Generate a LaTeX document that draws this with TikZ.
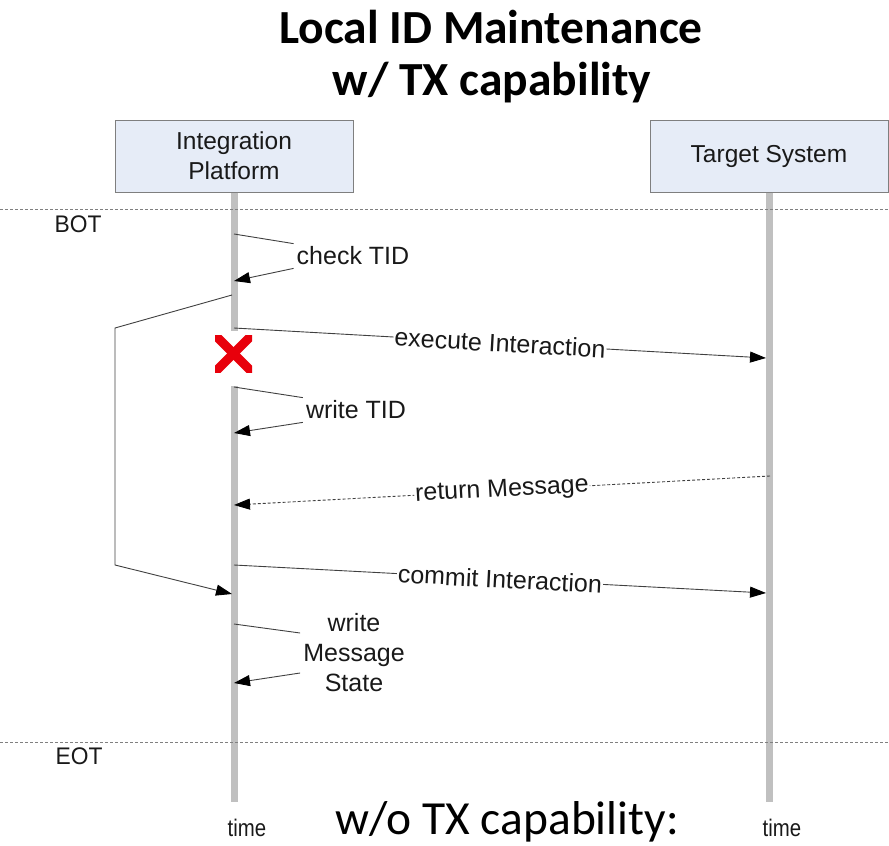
\documentclass[tikz,border=0pt]{standalone}
\usepackage{fontspec}
\setmainfont{Liberation Sans}
\newfontfamily\calib{Carlito}
\usetikzlibrary{arrows.meta}
\definecolor{boxfill}{HTML}{E6ECF7}
\definecolor{boxline}{HTML}{7F7F7F}
\definecolor{lifegray}{HTML}{C0C0C0}
\definecolor{msgline}{HTML}{404040}
\definecolor{xred}{HTML}{E8000B}
\tikzset{
  actor/.style={draw=boxline, fill=boxfill, line width=1pt, minimum width=238pt, minimum height=72pt, align=center, font=\fontsize{24.5}{30}\selectfont, text=black!90},
  lifeline/.style={draw=lifegray, line width=7pt},
  phase/.style={draw=gray, dashed, dash pattern=on 3pt off 2pt, line width=0.8pt},
  msg/.style={draw=msgline, line width=0.9pt, -{Triangle[length=16pt,width=11pt,color=black]}},
  msgplain/.style={draw=msgline, line width=0.9pt},
  lbl/.style={font=\fontsize{25}{30}\selectfont, text=black!90, align=center, inner sep=3pt},
  mlbl/.style={lbl, fill=white, inner sep=1pt, sloped},
  small/.style={font=\fontsize{24}{28}\selectfont, text=black!90},
}
\begin{document}
\begin{tikzpicture}[x=1pt,y=-1pt]
\useasboundingbox (0,0) rectangle (889,846);
% title
\node[anchor=base, font=\calib\bfseries\fontsize{47.5}{52}\selectfont] (title1) at (491,43) {Local ID Maintenance};
\node[anchor=base, font=\calib\bfseries\fontsize{47.5}{52}\selectfont] (title2) at (492,95) {w/ TX capability};
% actors
\node[actor] (ip) at (234,156) {Integration\\Platform};
\node[actor] (ts) at (769,156) {Target System};
% lifelines
\coordinate (ipend) at (234,802);
\coordinate (tsend) at (769,802);
\draw[lifeline] (ip.south) -- (ipend);
\draw[lifeline] (ts.south) -- (tsend);
% phase lines
\coordinate (botL) at (0,209); \coordinate (botR) at (889,209);
\coordinate (eotL) at (0,742); \coordinate (eotR) at (889,742);
\draw[phase] (botL) -- (botR);
\draw[phase] (eotL) -- (eotR);
\node[small, xscale=0.95] (bot) at (78,224) {BOT};
\node[small, xscale=0.95] (eot) at (79,756) {EOT};
% coordinates on lifelines
\coordinate (a1) at (234,234);
\coordinate (a2) at (234,281);
\coordinate (b1) at (232,295);
\coordinate (b2) at (115,328);
\coordinate (b3) at (115,565);
\coordinate (b4) at (232,594);
\coordinate (e1) at (234,328);
\coordinate (e2) at (766,358);
\coordinate (w1) at (234,387);
\coordinate (w2) at (234,433);
\coordinate (r1) at (770,476);
\coordinate (r2) at (234,505);
\coordinate (c1) at (234,565);
\coordinate (c2) at (766,593);
\coordinate (m1) at (234,624);
\coordinate (m2) at (234,683);
% check TID
\node[lbl] (chk) at (353,256) {check TID};
\draw[msgplain] (a1) -- (chk.north west);
\draw[msg] (chk.south west) -- (a2);
% bracket
\draw[msg] (b1) -- (b2) -- (b3) -- (b4);
% execute
\draw[msg] (e1) -- node[mlbl] (exe) {execute Interaction} (e2);
% red X
\fill[white] (215,331) rectangle (252,386);
\begin{scope}
\clip (215,335) rectangle (252,372);
\coordinate (x1) at (209,329); \coordinate (x2) at (258,378);
\coordinate (x3) at (209,378); \coordinate (x4) at (258,329);
\draw[xred, line width=9pt] (x1) -- (x2);
\draw[xred, line width=9pt] (x3) -- (x4);
\end{scope}
% write TID
\node[lbl] (wt) at (356,410) {write TID};
\draw[msgplain] (w1) -- (wt.north west);
\draw[msg] (wt.south west) -- (w2);
% return message
\draw[msg, dashed, dash pattern=on 3pt off 2pt] (r1) -- node[mlbl] (ret) {return Message} (r2);
% commit
\draw[msg] (c1) -- node[mlbl] (com) {commit Interaction} (c2);
% write message state
\node[lbl] (wms) at (354,653) {write\\Message\\State};
\draw[msgplain] (m1) -- ([yshift=20pt]wms.west);
\draw[msg] ([yshift=-20pt]wms.west) -- (m2);
% time labels
\node[small, xscale=0.85, anchor=base] (t1) at (247,836) {time};
\node[small, xscale=0.85, anchor=base] (t2) at (782,836) {time};
% footer
\node[anchor=base, font=\calib\fontsize{47.5}{52}\selectfont] (wo) at (507,834) {w/o TX capability:};
\end{tikzpicture}
\end{document}
